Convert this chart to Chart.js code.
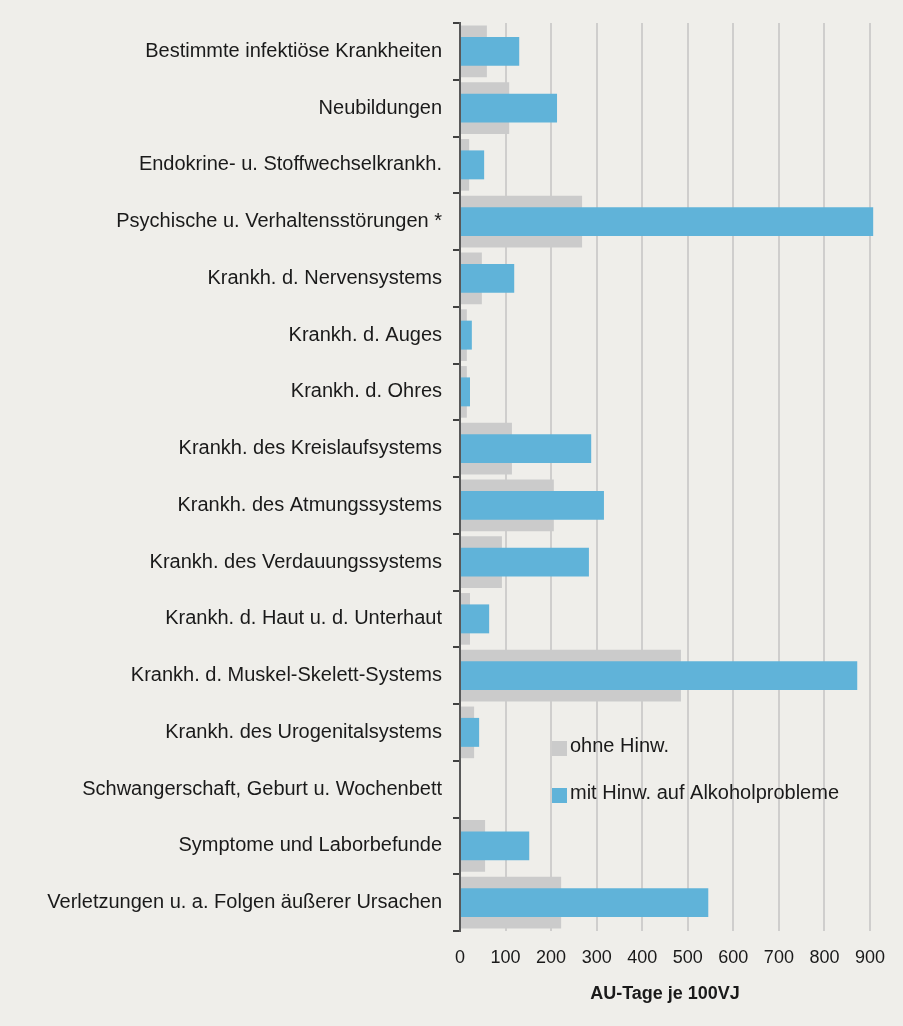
<!DOCTYPE html>
<html>
<head>
<meta charset="utf-8">
<script src="https://cdn.jsdelivr.net/npm/chart.js@4"></script>
<style>
  html, body { margin: 0; padding: 0; background: #efeeea; }
  canvas { display: block; }
</style>
</head>
<body>
<canvas id="chart1" width="903" height="1026"></canvas>
<script>
const categories = [
    "Bestimmte infektiöse Krankheiten",
    "Neubildungen",
    "Endokrine- u. Stoffwechselkrankh.",
    "Psychische u. Verhaltensstörungen *",
    "Krankh. d. Nervensystems",
    "Krankh. d. Auges",
    "Krankh. d. Ohres",
    "Krankh. des Kreislaufsystems",
    "Krankh. des Atmungssystems",
    "Krankh. des Verdauungssystems",
    "Krankh. d. Haut u. d. Unterhaut",
    "Krankh. d. Muskel-Skelett-Systems",
    "Krankh. des Urogenitalsystems",
    "Schwangerschaft, Geburt u. Wochenbett",
    "Symptome und Laborbefunde",
    "Verletzungen u. a. Folgen äußerer Ursachen"
];
const ohneHinw = [59, 108, 20, 268, 48, 15, 15, 114, 206, 92, 22, 485, 31, 0, 55, 222];
const mitHinw = [130, 213, 53, 907, 119, 26, 22, 288, 316, 283, 64, 872, 42, 0, 152, 545];
const seriesNames = ["ohne Hinw.", "mit Hinw. auf Alkoholprobleme"];
const xTicks = [0, 100, 200, 300, 400, 500, 600, 700, 800, 900];

const grey = "#cbcbcb";
const blue = "#60b3d9";

// legend sits inside the plot, below the Urogenital bar
const innerLegend = {
    id: "innerLegend",
    afterDraw(chart) {
        const ctx = chart.ctx;
        const left = chart.chartArea.left + 92;
        const rows = [[seriesNames[0], grey, 741], [seriesNames[1], blue, 788]];
        ctx.save();
        ctx.font = "20px 'Liberation Sans', Arial, sans-serif";
        ctx.textBaseline = "middle";
        ctx.textAlign = "left";
        rows.forEach(([name, color, y]) => {
            ctx.fillStyle = color;
            ctx.fillRect(left, y, 15, 15);
            ctx.fillStyle = "#1a1a1a";
            ctx.fillText(name, left + 18, y + 5);
        });
        ctx.restore();
    }
};

const barChart = new Chart(document.getElementById("chart1"), {
    type: "bar",
    data: {
        labels: categories,
        datasets: [{
            label: seriesNames[0],
            data: ohneHinw,
            backgroundColor: grey,
            grouped: false,
            categoryPercentage: 1,
            barPercentage: 0.91,
            order: 2
        }, {
            label: seriesNames[1],
            data: mitHinw,
            backgroundColor: blue,
            grouped: false,
            categoryPercentage: 1,
            barPercentage: 0.51,
            clip: false,
            order: 1
        }]
    },
    options: {
        indexAxis: "y",
        responsive: false,
        animation: false,
        devicePixelRatio: 1,
        layout: {
            padding: { left: 0, top: 22, right: 33, bottom: 21 }
        },
        plugins: {
            legend: { display: false },
            tooltip: { enabled: false }
        },
        scales: {
            x: {
                min: 0,
                max: 900,
                afterBuildTicks: (scale) => {
                    scale.ticks = xTicks.map(v => ({ value: v }));
                },
                afterFit: (scale) => { scale.height = 74; },
                grid: {
                    color: "#cfcecd",
                    lineWidth: 2,
                    drawTicks: false
                },
                border: { display: false },
                ticks: {
                    padding: 16,
                    maxRotation: 0,
                    color: "#1a1a1a",
                    font: { family: "'Liberation Sans', Arial, sans-serif", size: 18 }
                },
                title: {
                    display: true,
                    text: "AU-Tage je 100VJ",
                    color: "#1a1a1a",
                    font: { family: "'Liberation Sans', Arial, sans-serif", size: 18, weight: "bold" },
                    padding: { top: 18, bottom: 0 }
                }
            },
            y: {
                offset: true,
                afterFit: (scale) => { scale.width = 460; },
                grid: {
                    offset: true,
                    drawOnChartArea: false,
                    tickLength: 7,
                    color: "#404040",
                    lineWidth: 2
                },
                border: { color: "#595959", width: 2 },
                ticks: {
                    padding: 11,
                    color: "#1a1a1a",
                    autoSkip: false,
                    font: { family: "'Liberation Sans', Arial, sans-serif", size: 20 }
                }
            }
        }
    },
    plugins: [innerLegend]
});
</script>
</body>
</html>
